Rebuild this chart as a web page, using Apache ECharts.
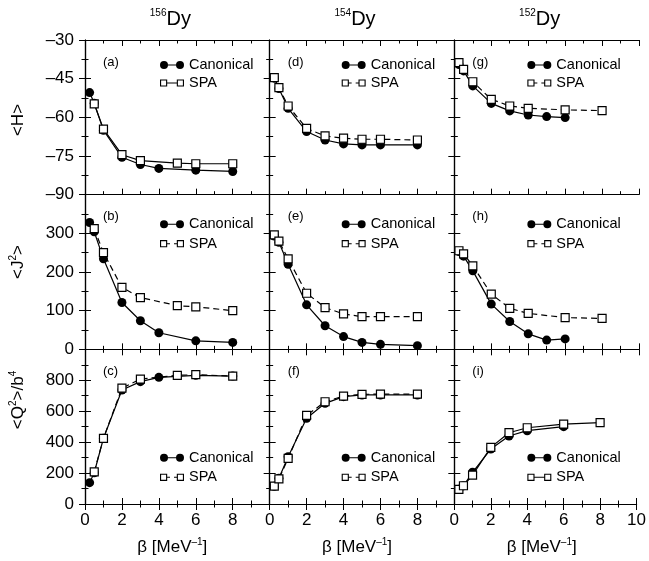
<!DOCTYPE html>
<html><head><meta charset="utf-8">
<script src="https://cdn.jsdelivr.net/npm/echarts@6/dist/echarts.min.js"></script>
<style>html,body{margin:0;padding:0;background:#fff}#c{width:649px;height:561px}</style>
</head><body><div id="c"></div>
<script>
// ---------- data ----------
const beta = [0.25, 0.5, 1, 2, 3, 4, 5, 6, 8];
const nuclei = ['156', '154', '152'];
const panelLetters = [['(a)', '(b)', '(c)'], ['(d)', '(e)', '(f)'], ['(g)', '(h)', '(i)']];
const seriesNames = ['Canonical', 'SPA'];
const yTickLabels = [['–30', '–45', '–60', '–75', '–90'], ['0', '100', '200', '300'], ['0', '200', '400', '600', '800']];
const xTickLabels = ['0', '2', '4', '6', '8', '10'];

const H156_can = [-50.4, -54.5, -65.0, -75.5, -78.3, -79.8, null, -80.5, -81.0];
const H156_spa = [null, -54.8, -64.6, -74.5, -76.8, null, -77.8, -78.0, -78.0];
const J156_can = [328, 304, 234, 121, 74, 43, null, 22, 18];
const J156_spa = [null, 312, 250, 160, 134, null, 113, 110, 100];
const Q156_can = [138, 202, 425, 737, 791, 819, null, 832, 827];
const Q156_spa = [null, 208, 425, 749, 808, null, 832, 836, 827];

const H154_can = [-44.8, -48.8, -56.5, -65.5, -68.8, -70.3, -70.7, -70.7, -70.7];
const H154_spa = [-44.6, -48.5, -55.6, -64.3, -67.2, -68.1, -68.5, -68.5, -68.8];
const J154_can = [293, 277, 220, 115, 61, 33, 18, 13, 9.5];
const J154_spa = [296, 280, 234, 145, 108, 91.5, 84.5, 84.5, 84.5];
const Q154_can = [115, 166, 306, 554, 651, 694, 705, 705, 705];
const Q154_spa = [116, 162, 295, 573, 661, 698, 709, 711, 711];

const H152_can = [-39.5, -42.0, -47.8, -54.6, -57.5, -59.1, -59.7, -60.1, null];
const H152_spa = [-38.8, -41.4, -46.2, -53.0, -55.6, -56.5, null, -57.1, -57.4];
const J152_can = [253, 241, 203, 117, 72, 40, 24, 27, null];
const J152_spa = [255, 247, 216, 143, 106, 93, null, 82, 80];
const Q152_can = [95, 118, 205, 355, 440, 474, null, 500, null];
const Q152_spa = [95, 118, 187, 366, 461, 493, null, 517, 526];

// panels[col][row] = [canonical, spa]
const panels = [
  [[H156_can, H156_spa], [J156_can, J156_spa], [Q156_can, Q156_spa]],
  [[H154_can, H154_spa], [J154_can, J154_spa], [Q154_can, Q154_spa]],
  [[H152_can, H152_spa], [J152_can, J152_spa], [Q152_can, Q152_spa]]
];

// ---------- layout / style ----------
const L = 85, T = 40, W = 184.67, H = 154.67;
const FONT = "'Liberation Sans', Arial, Helvetica, sans-serif";
const yRanges = [[-90, -30, 15], [0, 400, 100], [0, 1000, 200]];
const spaSolid = [[true, false, false], [false, false, false], [false, false, true]];
const legendDX = [75, 72, 73];
const legendDY = [25, 29.5, 108.5];
const legendGap = [0, 1.5, 1.5];

const ICON_CAN = 'path://M0,5A5,5 0 1,1 10,5A5,5 0 1,1 0,5ZM20,5A5,5 0 1,1 30,5A5,5 0 1,1 20,5ZM5,4.35L25,4.35L25,5.65L5,5.65Z';
const SQ = 'M0,0.5L9,0.5L9,9.5L0,9.5ZM1.4,1.9L1.4,8.1L7.6,8.1L7.6,1.9Z' +
           'M21,0.5L30,0.5L30,9.5L21,9.5ZM22.4,1.9L22.4,8.1L28.6,8.1L28.6,1.9Z';
const ICON_SPA_SOLID = 'path://' + SQ + 'M9,4.35L21,4.35L21,5.65L9,5.65Z';
const ICON_SPA_DASH = 'path://' + SQ + 'M9,4.35L12.5,4.35L12.5,5.65L9,5.65ZM17.5,4.35L21,4.35L21,5.65L17.5,5.65Z';

const grids = [], xAxes = [], yAxes = [], series = [], legends = [], graphics = [];
const axisLine = { show: true, lineStyle: { color: '#000', width: 1.2 } };
const tick = { show: true, inside: true, length: 6, lineStyle: { color: '#000', width: 1 } };
const minor = { show: true, splitNumber: 2, length: 3.5, lineStyle: { color: '#000', width: 1 } };

for (let c = 0; c < 3; c++) {
  for (let r = 0; r < 3; r++) {
    const k = grids.length;
    const left = L + c * W, top = T + r * H;
    grids.push({ left: left, top: top, width: W, height: H, containLabel: false });
    const [ymin, ymax, yint] = yRanges[r];
    // bottom x
    xAxes.push({
      type: 'value', gridIndex: k, position: 'bottom', min: 0, max: 10, interval: 2,
      axisLine, axisTick: tick, minorTick: minor, splitLine: { show: false },
      axisLabel: {
        show: r === 2, showMaxLabel: c === 2, showMinLabel: true, margin: 8,
        color: '#000', fontSize: 17, fontFamily: FONT,
        formatter: v => xTickLabels[Math.round(v / 2)]
      }
    });
    // top x (ticks only)
    xAxes.push({
      type: 'value', gridIndex: k, position: 'top', min: 0, max: 10, interval: 2,
      axisLine, axisTick: tick, minorTick: minor, splitLine: { show: false },
      axisLabel: { show: false }
    });
    // left y
    yAxes.push({
      type: 'value', gridIndex: k, position: 'left', min: ymin, max: ymax, interval: yint,
      axisLine, axisTick: tick, minorTick: minor, splitLine: { show: false },
      axisLabel: {
        show: c === 0, showMaxLabel: r === 0, showMinLabel: true, margin: 11,
        color: '#000', fontSize: 17, fontFamily: FONT,
        formatter: v => {
          const idx = r === 0 ? Math.round((ymax - v) / yint) : Math.round((v - ymin) / yint);
          return yTickLabels[r][idx];
        }
      }
    });
    // right y (ticks only)
    yAxes.push({
      type: 'value', gridIndex: k, position: 'right', min: ymin, max: ymax, interval: yint,
      axisLine, axisTick: tick, minorTick: minor, splitLine: { show: false },
      axisLabel: { show: false }
    });

    const [canVals, spaVals] = panels[c][r];
    const toData = vals => beta.map((b, i) => [b, vals[i]]).filter(p => p[1] !== null);
    series.push({
      name: seriesNames[0], type: 'line', xAxisIndex: 2 * k, yAxisIndex: 2 * k,
      data: toData(canVals), symbol: 'circle', symbolSize: 9, z: 2,
      itemStyle: { color: '#000' }, lineStyle: { color: '#000', width: 1.2 }
    });
    series.push({
      name: seriesNames[1], type: 'line', xAxisIndex: 2 * k, yAxisIndex: 2 * k,
      data: toData(spaVals), symbol: 'rect', symbolSize: 8, z: 3,
      itemStyle: { color: '#fff', borderColor: '#000', borderWidth: 1.2 },
      lineStyle: { color: '#000', width: 1.2, type: spaSolid[c][r] ? 'solid' : [6, 4] }
    });

    legends.push({
      orient: 'vertical', left: left + legendDX[c], top: top + legendDY[r] - 9,
      padding: 0, itemGap: legendGap[r], itemWidth: 24, itemHeight: 8, selectedMode: false,
      itemStyle: { color: '#000', borderWidth: 0 },
      textStyle: { color: '#000', fontSize: 14.5, fontFamily: FONT, lineHeight: 18 },
      data: [
        { name: seriesNames[0], icon: ICON_CAN },
        { name: seriesNames[1], icon: spaSolid[c][r] ? ICON_SPA_SOLID : ICON_SPA_DASH }
      ]
    });

    graphics.push({
      type: 'text', x: left + 18, y: top + 22,
      style: { text: panelLetters[c][r], fill: '#000', font: '13px ' + FONT, verticalAlign: 'middle' }
    });
  }
  // column title
  graphics.push({
    type: 'text', x: L + c * W + W / 2 - 7, y: 19,
    style: {
      text: '{s|' + nuclei[c] + '}{m|Dy}', align: 'center', verticalAlign: 'middle', fill: '#000',
      rich: {
        s: { fontSize: 10, fontFamily: FONT, lineHeight: 12, verticalAlign: 'top', fill: '#000' },
        m: { fontSize: 20, fontFamily: FONT, lineHeight: 22, fill: '#000' }
      }
    }
  });
  // x axis name
  graphics.push({
    type: 'text', x: L + c * W + W / 2 - 5, y: 547,
    style: {
      text: '{n|β [MeV}{s|–1}{n|]}', align: 'center', verticalAlign: 'middle', fill: '#000',
      rich: {
        n: { fontSize: 17, fontFamily: FONT, lineHeight: 20, fill: '#000' },
        s: { fontSize: 10, fontFamily: FONT, lineHeight: 12, verticalAlign: 'top', fill: '#000' }
      }
    }
  });
}

// y axis names
const yNames = ['{n|<H>}', '{n|<J}{s|2}{n|>}', '{n|<Q}{s|2}{n|>/b}{s|4}'];
const yNameY = [120, 262, 400];
yNames.forEach((t, i) => {
  graphics.push({
    type: 'text', x: 18, y: yNameY[i], rotation: Math.PI / 2,
    style: {
      text: t, align: 'center', verticalAlign: 'middle', fill: '#000',
      rich: {
        n: { fontSize: 17, fontFamily: FONT, lineHeight: 20, fill: '#000' },
        s: { fontSize: 10, fontFamily: FONT, lineHeight: 12, verticalAlign: 'top', fill: '#000' }
      }
    }
  });
});

const chart = echarts.init(document.getElementById('c'), null, { renderer: 'canvas' });
chart.setOption({
  animation: false,
  backgroundColor: '#fff',
  grid: grids, xAxis: xAxes, yAxis: yAxes, series: series, legend: legends,
  graphic: graphics
});
</script></body></html>
